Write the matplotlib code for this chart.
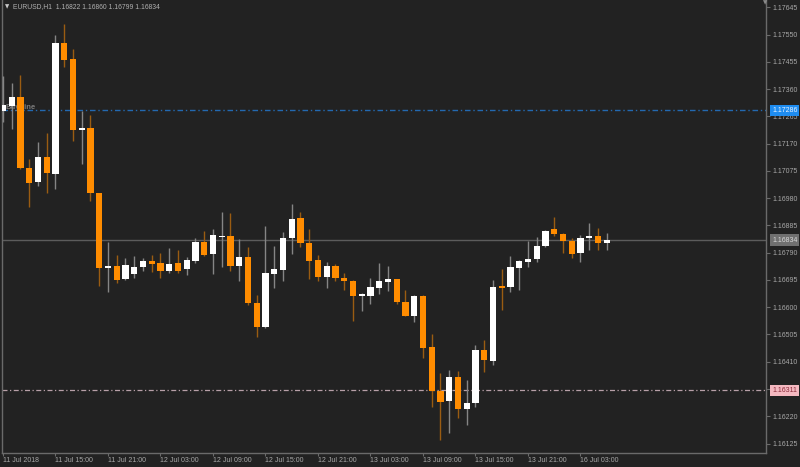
import matplotlib
matplotlib.use("Agg")
import matplotlib.pyplot as plt

plt.rcParams["font.family"] = ["Liberation Sans", "DejaVu Sans"]

# EURUSD H1, 11 Jul 2018 09:00 .. 16 Jul 2018 06:00 (one entry per hourly bar)
OPEN = [1.17285, 1.17301, 1.17331, 1.17084, 1.17035, 1.17122, 1.17063, 1.17522, 1.17465, 1.17219,
        1.17225, 1.16997, 1.16738, 1.16744, 1.16698, 1.16716, 1.16739, 1.16762, 1.16755, 1.16727,
        1.16753, 1.16733, 1.16762, 1.16828, 1.16784, 1.16845, 1.16849, 1.16744, 1.16774, 1.16616,
        1.16530, 1.16716, 1.16730, 1.16842, 1.16910, 1.16823, 1.16764, 1.16704, 1.16744, 1.16701,
        1.16691, 1.16639, 1.16640, 1.16668, 1.16688, 1.16698, 1.16619, 1.16570, 1.16639, 1.16460,
        1.16309, 1.16274, 1.16356, 1.16245, 1.16265, 1.16451, 1.16414, 1.16674, 1.16669, 1.16736,
        1.16758, 1.16767, 1.16813, 1.16871, 1.16855, 1.16831, 1.16788, 1.16842, 1.16849, 1.16822]
HIGH = [1.17406, 1.17381, 1.17409, 1.17116, 1.17177, 1.17207, 1.17548, 1.17587, 1.17499, 1.17285,
        1.17270, 1.16999, 1.16828, 1.16782, 1.16770, 1.16778, 1.16770, 1.16782, 1.16788, 1.16805,
        1.16799, 1.16776, 1.16842, 1.16866, 1.16871, 1.16932, 1.16929, 1.16837, 1.16811, 1.16643,
        1.16883, 1.16813, 1.16861, 1.16959, 1.16931, 1.16871, 1.16782, 1.16759, 1.16751, 1.16718,
        1.16695, 1.16651, 1.16701, 1.16755, 1.16744, 1.16700, 1.16660, 1.16641, 1.16641, 1.16506,
        1.16370, 1.16381, 1.16379, 1.16346, 1.16468, 1.16486, 1.16695, 1.16732, 1.16778, 1.16763,
        1.16832, 1.16844, 1.16869, 1.16915, 1.16857, 1.16840, 1.16852, 1.16892, 1.16875, 1.16860]
LOW = [1.17245, 1.17221, 1.17082, 1.16950, 1.17022, 1.16999, 1.17011, 1.17438, 1.17180, 1.17099,
       1.16970, 1.16674, 1.16654, 1.16683, 1.16696, 1.16701, 1.16727, 1.16723, 1.16701, 1.16720,
       1.16720, 1.16712, 1.16755, 1.16778, 1.16715, 1.16739, 1.16727, 1.16692, 1.16608, 1.16497,
       1.16528, 1.16668, 1.16692, 1.16784, 1.16811, 1.16698, 1.16692, 1.16666, 1.16692, 1.16660,
       1.16553, 1.16588, 1.16610, 1.16645, 1.16658, 1.16611, 1.16568, 1.16550, 1.16424, 1.16251,
       1.16137, 1.16163, 1.16213, 1.16189, 1.16253, 1.16375, 1.16399, 1.16590, 1.16654, 1.16660,
       1.16741, 1.16759, 1.16809, 1.16848, 1.16788, 1.16770, 1.16759, 1.16799, 1.16799, 1.16799]
CLOSE = [1.17305, 1.17334, 1.17084, 1.17034, 1.17122, 1.17067, 1.17522, 1.17461, 1.17217, 1.17223,
         1.16997, 1.16736, 1.16744, 1.16695, 1.16747, 1.16740, 1.16760, 1.16751, 1.16727, 1.16751,
         1.16726, 1.16764, 1.16828, 1.16782, 1.16851, 1.16849, 1.16744, 1.16774, 1.16614, 1.16530,
         1.16718, 1.16732, 1.16842, 1.16908, 1.16823, 1.16762, 1.16704, 1.16744, 1.16701, 1.16692,
         1.16640, 1.16646, 1.16670, 1.16691, 1.16698, 1.16617, 1.16570, 1.16639, 1.16459, 1.16309,
         1.16271, 1.16356, 1.16244, 1.16267, 1.16451, 1.16416, 1.16669, 1.16667, 1.16739, 1.16761,
         1.16769, 1.16813, 1.16866, 1.16855, 1.16832, 1.16785, 1.16842, 1.16849, 1.16823, 1.16834]

TIME_TICK_BARS = [0, 6, 12, 18, 24, 30, 36, 42, 48, 54, 60, 66]
TIME_LABELS = ["11 Jul 2018", "11 Jul 15:00", "11 Jul 21:00", "12 Jul 03:00", "12 Jul 09:00",
               "12 Jul 15:00", "12 Jul 21:00", "13 Jul 03:00", "13 Jul 09:00", "13 Jul 15:00",
               "13 Jul 21:00", "16 Jul 03:00"]
PRICE_TICKS = [1.16125, 1.16220, 1.16315, 1.16410, 1.16505, 1.16600, 1.16695, 1.16790, 1.16885,
               1.16980, 1.17075, 1.17170, 1.17265, 1.17360, 1.17455, 1.17550, 1.17645]

BUY_LINE = 1.17286
SELL_LINE = 1.16311
BID = 1.16834
HEADER = "EURUSD,H1  1.16822 1.16860 1.16799 1.16834"

BG = "#222222"
BULL = "#ffffff"
BEAR = "#ff8c00"
BULL_WICK = "#858585"
BEAR_WICK = "#9a5c12"
GRID_C = "#6a6a6a"
TXT = "#a8a8a8"

fig = plt.figure(figsize=(8, 4.67), dpi=100, facecolor=BG)
ax = fig.add_axes([2 / 800, 14 / 467, 764 / 800, 453 / 467], facecolor=BG)

px_per_bar = 8.75
ax.set_xlim((2 - 3) / px_per_bar, (766 - 3) / px_per_bar)
ax.set_ylim(1.160920, 1.176704)

idx = list(range(len(OPEN)))
min_h = 0.00005
for i in idx:
    o, h, l, c = OPEN[i], HIGH[i], LOW[i], CLOSE[i]
    up = c >= o
    ax.vlines(i, l, h, color=BULL_WICK if up else BEAR_WICK, lw=1.0, zorder=3)
    lo, hi = min(o, c), max(o, c)
    height = max(hi - lo, min_h)
    mid = (lo + hi) / 2
    ax.bar(i, height, bottom=mid - height / 2, width=0.69,
           color=BULL if up else BEAR, lw=0, zorder=4)

# horizontal objects
ax.axhline(BUY_LINE, color="#2369b0", lw=1.0, dashes=(4, 2, 1, 2), zorder=2)
ax.axhline(SELL_LINE, color="#b8a0a8", lw=0.9, dashes=(4, 2, 1, 2), zorder=2)
ax.axhline(BID, color="#5c5c5c", lw=1.0, zorder=2)
ax.text(0.3, BUY_LINE + 0.00010, "BuyLine", fontsize=5.5, color="#7a7a7a",
        fontweight="bold", va="center", ha="left", zorder=2)

# axes styling
for s in ["left", "bottom", "right"]:
    ax.spines[s].set_color(GRID_C)
    ax.spines[s].set_linewidth(1.0)
ax.spines["top"].set_visible(False)

ax.yaxis.tick_right()
ax.set_yticks(PRICE_TICKS)
ax.set_yticklabels([f"{p:.5f}" for p in PRICE_TICKS])
ax.tick_params(axis="y", length=3, color=GRID_C, labelcolor=TXT, labelsize=5, pad=2)

ax.set_xticks(TIME_TICK_BARS)
ax.set_xticklabels(TIME_LABELS, ha="left")
ax.tick_params(axis="x", length=2, color=GRID_C, labelcolor=TXT, labelsize=5, pad=1)

# price tags on the right scale
tr = ax.get_yaxis_transform()
tags = [(BUY_LINE, "#1e8cf0", "#e8f2ff"), (BID, "#707070", "#d8d8d8"), (SELL_LINE, "#f4b8c0", "#8a2a3a")]
for price, fc, tc in tags:
    ax.text(1.0 + 6 / 764, price, f"{price:.5f}", transform=tr, fontsize=5, color=tc,
            ha="left", va="center", clip_on=False, zorder=10,
            bbox=dict(boxstyle="square,pad=0.3", fc=fc, ec="none"))

fig.text(13 / 800, 1 - 7 / 467, HEADER, fontsize=4.9, color="#b0b0b0", va="center", ha="left")
fig.text(5 / 800, 1 - 7 / 467, "▼", fontsize=4, color="#c8c8c8", va="center", ha="left",
         family=["DejaVu Sans"])
fig.text(765 / 800, 1 - 3 / 467, "▼", fontsize=4, color="#8a8a8a", va="center", ha="center",
         family=["DejaVu Sans"])

fig.savefig("out.png", dpi=100, facecolor=BG)
